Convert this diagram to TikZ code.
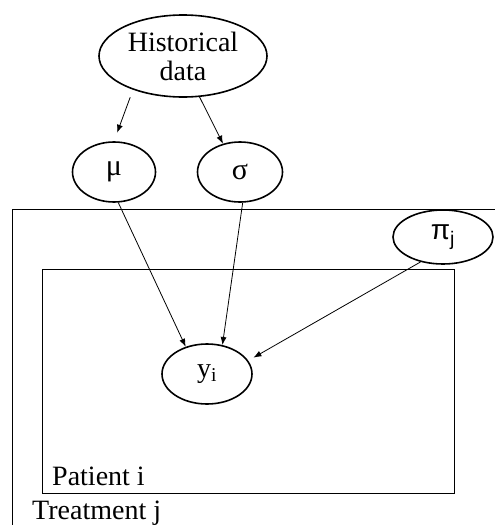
\documentclass[tikz,border=0pt]{standalone}
\usepackage{fontspec}
\setmainfont{Liberation Serif}
\newfontfamily\greeksans{Liberation Sans}
\usetikzlibrary{arrows.meta,shapes.geometric}
\begin{document}
\begin{tikzpicture}[x=1pt,y=-1pt,
  var/.style={draw,ellipse,line width=1.6pt,inner sep=0pt,font=\fontsize{28}{30}\selectfont},
  edge/.style={line width=0.8pt,-{Latex[length=8pt,width=6pt]}},
  plate/.style={line width=0.9pt},
  lbl/.style={anchor=base west,inner sep=0pt,font=\fontsize{28}{30}\selectfont}]
\useasboundingbox (0,0) rectangle (495,525);
\begin{scope}
\clip (0,0) rectangle (495,525);
\draw[plate] (12.5,209) rectangle (520,540);
\draw[plate] (42,269) rectangle (454,493);
\node[var, minimum width=168pt, minimum height=82pt, align=center, font=\fontsize{28}{29}\selectfont] (h) at (183,56) {Historical\\data};
\node[var, minimum width=83pt, minimum height=60pt, font=\fontsize{30}{30}\selectfont] (mu) at (114,172) {\raisebox{-2pt}{μ}};
\node[var, minimum width=85pt, minimum height=60pt, font=\fontsize{30}{30}\selectfont] (sg) at (240,172) {σ};
\node[var, minimum width=100pt, minimum height=54pt] (pi) at (443,237) {\greeksans π\textsubscript{j}};
\node[var, minimum width=90pt, minimum height=60pt] (y) at (207,374) {y\textsubscript{i}};
\draw[edge, shorten <=8pt, shorten >=9pt] (h.214) -- (mu.north);
\draw[edge] (h.292) -- (sg.121);
\draw[edge] (mu.278) -- (y.128);
\draw[edge] (sg.275) -- (y.62);
\draw[edge, shorten >=6pt] (pi.228) -- (y.18);
\node[lbl] (pl) at (52,485) {Patient i};
\node[lbl] (tl) at (32,519) {Treatment j};
\end{scope}
\end{tikzpicture}
\end{document}
